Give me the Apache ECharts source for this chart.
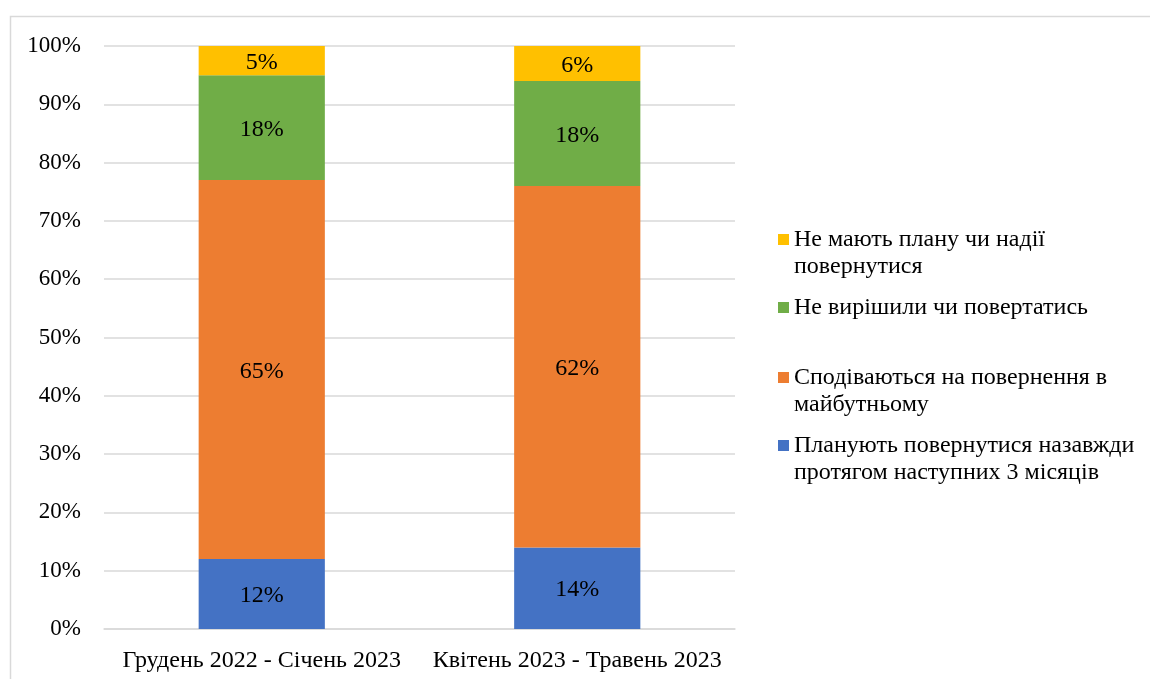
<!DOCTYPE html>
<html>
<head>
<meta charset="utf-8">
<script src="https://cdn.jsdelivr.net/npm/echarts@6/dist/echarts.min.js"></script>
<style>
  html, body { margin: 0; padding: 0; background: #fff; }
  #chart { width: 1150px; height: 679px; }
</style>
</head>
<body>
<div id="chart"></div>
<script>
const categories = ["Грудень 2022 - Січень 2023", "Квітень 2023 - Травень 2023"];

const seriesNames = [
  "Планують повернутися назавжди протягом наступних 3 місяців",
  "Сподіваються на повернення в майбутньому",
  "Не вирішили чи повертатись",
  "Не мають плану чи надії повернутися",
];
// wrapped legend text, as in the picture
const legendLabels = [
  "Планують повернутися назавжди\nпротягом наступних 3 місяців",
  "Сподіваються на повернення в\nмайбутньому",
  "Не вирішили чи повертатись",
  "Не мають плану чи надії\nповернутися",
];

const planReturn = [12, 14];
const hopeReturn = [65, 62];
const undecided = [18, 18];
const noPlan = [5, 6];

const colors = ["#4472C4", "#ED7D31", "#70AD47", "#FFC000"];
const font = "'Liberation Serif', 'Times New Roman', serif";

const values = [planReturn, hopeReturn, undecided, noPlan];

// legend tops, top item first (yellow) down to blue
const legendTops = { 3: 226, 2: 294, 1: 364, 0: 432 };

const chart = echarts.init(document.getElementById("chart"), null, { renderer: "canvas" });

// square marker sitting on the first line of a two-line label:
// the empty sub-path stretches the icon box down so the square stays on top
const topSquare = "path://M0,0L11,0L11,11L0,11Z M0,38L0,38";

const legends = [3, 2, 1, 0].map((i) => {
  const twoLines = legendLabels[i].includes("\n");
  return {
    data: [{ name: seriesNames[i], icon: twoLines ? topSquare : "rect" }],
    left: 778,
    top: legendTops[i],
    padding: 0,
    itemWidth: 11,
    itemHeight: twoLines ? 38 : 11,
    itemGap: 0,
    formatter: () => legendLabels[i],
    textStyle: {
      fontFamily: font,
      fontSize: 24,
      color: "#000",
      lineHeight: 27,
    },
  };
});

const option = {
  animation: false,
  backgroundColor: "#fff",
  graphic: [
    {
      type: "rect",
      silent: true,
      shape: { x: 10.5, y: 16.5, width: 1200, height: 700 },
      style: { fill: "none", stroke: "#d9d9d9", lineWidth: 1.5 },
    },
  ],
  grid: { left: 104, right: 415, top: 46, bottom: 50, containLabel: false },
  legend: legends,
  xAxis: {
    type: "category",
    data: categories,
    axisLine: { show: true, lineStyle: { color: "#d9d9d9", width: 1.5 } },
    axisTick: { show: false },
    axisLabel: {
      interval: 0,
      hideOverlap: false,
      color: "#000",
      fontFamily: font,
      fontSize: 24,
      margin: 20,
    },
  },
  yAxis: {
    type: "value",
    min: 0,
    max: 100,
    interval: 10,
    axisLine: { show: false },
    axisTick: { show: false },
    axisLabel: {
      color: "#000",
      fontFamily: font,
      fontSize: 23,
      margin: 23,
      formatter: "{value}%",
    },
    splitLine: { lineStyle: { color: "#d9d9d9", width: 1.5 } },
  },
  series: values.map((data, i) => ({
    name: seriesNames[i],
    type: "bar",
    stack: "total",
    barWidth: "40%",
    data: data,
    itemStyle: { color: colors[i] },
    label: {
      show: true,
      position: "inside",
      offset: [0, 2],
      formatter: "{c}%",
      color: "#000",
      fontFamily: font,
      fontSize: 24,
    },
  })),
};

chart.setOption(option);
</script>
</body>
</html>
